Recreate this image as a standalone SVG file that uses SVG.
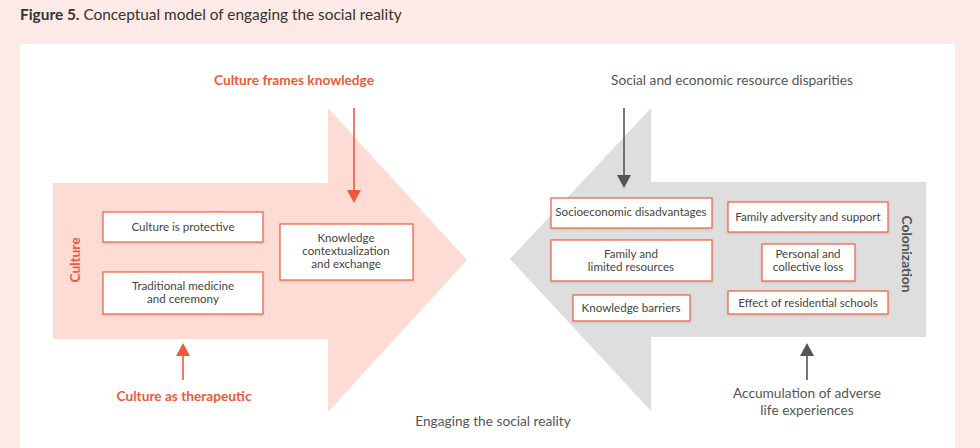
<svg xmlns="http://www.w3.org/2000/svg" width="980" height="448" viewBox="0 0 980 448">
<defs>
<style>
.t{font-family:Lato,"Liberation Sans",sans-serif;}
.box{fill:#fff;stroke:#ec6a4c;stroke-width:1.3;filter:url(#sh);}
.bt{font-family:Lato,"Liberation Sans",sans-serif;font-size:11.6px;fill:#444;text-anchor:middle;}
.lo{font-family:Lato,"Liberation Sans",sans-serif;font-size:13.7px;fill:#ee5a3a;font-weight:700;text-anchor:middle;}
.lg{font-family:Lato,"Liberation Sans",sans-serif;font-size:13.7px;fill:#555;text-anchor:middle;}
.ao{stroke:#ee5a3a;stroke-width:1.6;fill:none;}
.ag{stroke:#555;stroke-width:1.6;fill:none;}
</style>
<filter id="sh" x="-10%" y="-20%" width="120%" height="150%">
<feDropShadow dx="0" dy="1" stdDeviation="1.2" flood-color="#000" flood-opacity="0.12"/>
</filter>
</defs>
<rect x="0" y="0" width="980" height="448" fill="#fdeae6"/>
<rect x="20" y="44" width="935" height="404" fill="#fff"/>
<text class="t" x="20" y="20" font-size="15.4" fill="#333"><tspan font-weight="700">Figure 5.</tspan> Conceptual model of engaging the social reality</text>

<g id="culture-arrow">
<polygon points="53,183 328,183 328,108 467,260 328,412 328,339 53,339" fill="#fddcd5"/>
<text class="lo" transform="translate(80,260) rotate(-90)">Culture</text>
</g>
<g id="colonization-arrow">
<polygon points="926,182 651,182 651,108 510,259 651,411 651,337 926,337" fill="#dedede"/>
<text class="lg" font-weight="700" transform="translate(902,254) rotate(90)">Colonization</text>
</g>

<g id="n-culture-protective"><rect class="box" x="103" y="212" width="160" height="30"/><text class="bt" x="183" y="231">Culture is protective</text></g>
<g id="n-traditional"><rect class="box" x="103" y="272" width="160" height="42"/><text class="bt" x="183" y="290">Traditional medicine</text><text class="bt" x="183" y="303">and ceremony</text></g>
<g id="n-knowledge"><rect class="box" x="280" y="224" width="133" height="56"/><text class="bt" x="346" y="242">Knowledge</text><text class="bt" x="346" y="255">contextualization</text><text class="bt" x="346" y="268">and exchange</text></g>

<g id="n-socioeconomic"><rect class="box" x="551" y="198" width="161" height="30"/><text class="bt" x="631" y="216">Socioeconomic disadvantages</text></g>
<g id="n-family-adversity"><rect class="box" x="728" y="202" width="160" height="30"/><text class="bt" x="808" y="221">Family adversity and support</text></g>
<g id="n-family-limited"><rect class="box" x="551" y="240" width="161" height="41"/><text class="bt" x="631" y="258">Family and</text><text class="bt" x="631" y="271">limited resources</text></g>
<g id="n-personal"><rect class="box" x="762" y="244" width="93" height="37"/><text class="bt" x="808" y="258">Personal and</text><text class="bt" x="808" y="271">collective loss</text></g>
<g id="n-knowledge-barriers"><rect class="box" x="573" y="295" width="117" height="26"/><text class="bt" x="631" y="312">Knowledge barriers</text></g>
<g id="n-residential"><rect class="box" x="728" y="291" width="160" height="23"/><text class="bt" x="808" y="307">Effect of residential schools</text></g>

<g id="l-frames"><text class="lo" x="294" y="85">Culture frames knowledge</text></g>
<g id="l-disparities"><text class="lg" x="732" y="85">Social and economic resource disparities</text></g>
<g id="l-therapeutic"><text class="lo" x="184" y="401">Culture as therapeutic</text></g>
<g id="l-accumulation"><text class="lg" x="807" y="398">Accumulation of adverse</text><text class="lg" x="807" y="415">life experiences</text></g>
<g id="l-engaging"><text class="lg" x="493" y="426">Engaging the social reality</text></g>

<g id="connectors">
<line class="ao" x1="354" y1="108" x2="354" y2="192"/>
<polygon points="347,190 361,190 354,203" fill="#ee5a3a"/>
<line class="ag" x1="624" y1="108" x2="624" y2="177"/>
<polygon points="617,175 631,175 624,188" fill="#555"/>
<line class="ao" x1="183" y1="380" x2="183" y2="353"/>
<polygon points="176,356 190,356 183,343" fill="#ee5a3a"/>
<line class="ag" x1="807" y1="380" x2="807" y2="353"/>
<polygon points="800,356 814,356 807,343" fill="#555"/>
</g>
</svg>
